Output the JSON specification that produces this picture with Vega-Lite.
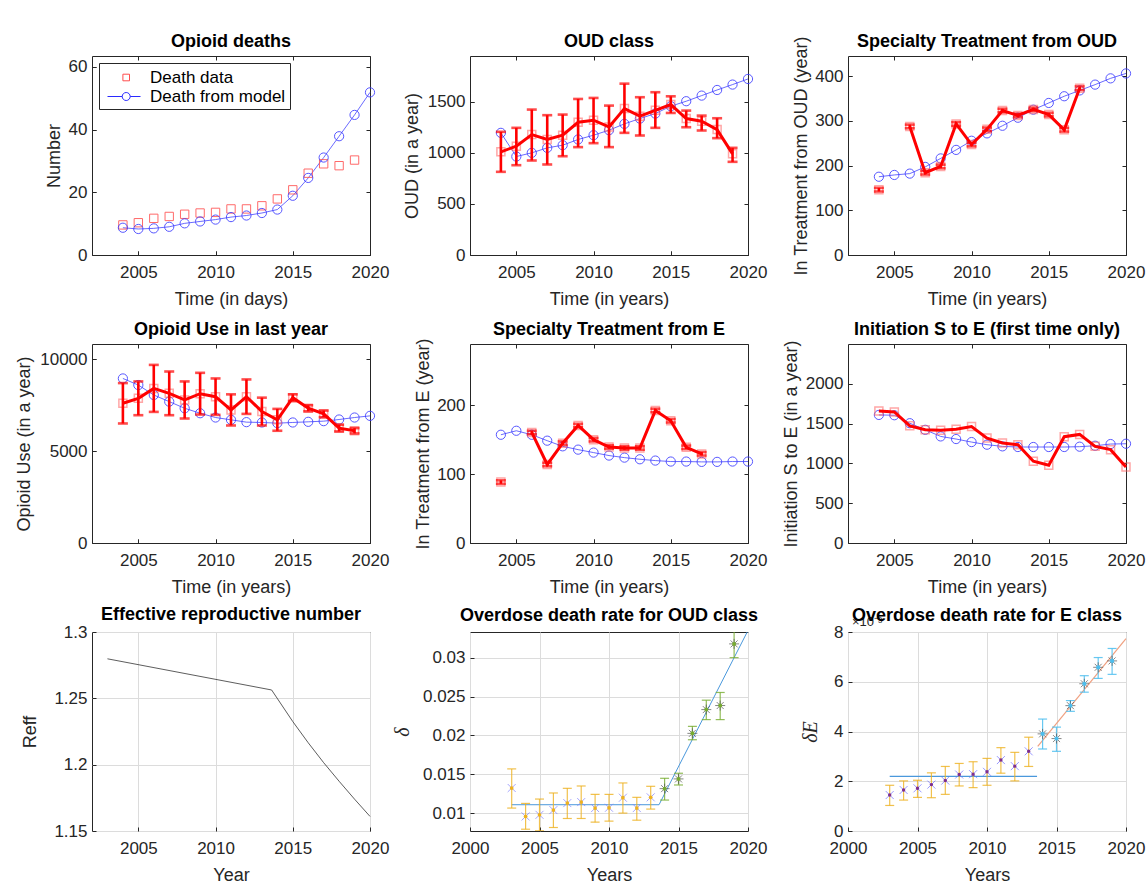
{
  "$schema": "https://vega.github.io/schema/vega-lite/v6.json",
  "background": "white",
  "padding": {"left": 14, "top": 32, "right": 0, "bottom": 0},
  "bounds": "flush",
  "columns": 3,
  "spacing": {"row": 89, "column": 100},
  "datasets": {
    "deaths": [
      {"year": 2004, "kind": "Death data", "v": 9.6},
      {"year": 2005, "kind": "Death data", "v": 10.3},
      {"year": 2006, "kind": "Death data", "v": 11.7},
      {"year": 2007, "kind": "Death data", "v": 12.3},
      {"year": 2008, "kind": "Death data", "v": 13.0},
      {"year": 2009, "kind": "Death data", "v": 13.4},
      {"year": 2010, "kind": "Death data", "v": 13.6},
      {"year": 2011, "kind": "Death data", "v": 14.7},
      {"year": 2012, "kind": "Death data", "v": 14.7},
      {"year": 2013, "kind": "Death data", "v": 15.7},
      {"year": 2014, "kind": "Death data", "v": 17.9},
      {"year": 2015, "kind": "Death data", "v": 20.8},
      {"year": 2016, "kind": "Death data", "v": 26.1},
      {"year": 2017, "kind": "Death data", "v": 29.1},
      {"year": 2018, "kind": "Death data", "v": 28.5},
      {"year": 2019, "kind": "Death data", "v": 30.3},
      {"year": 2004, "kind": "Death from model", "v": 8.7},
      {"year": 2005, "kind": "Death from model", "v": 8.3},
      {"year": 2006, "kind": "Death from model", "v": 8.5},
      {"year": 2007, "kind": "Death from model", "v": 9.0},
      {"year": 2008, "kind": "Death from model", "v": 10.1},
      {"year": 2009, "kind": "Death from model", "v": 10.7},
      {"year": 2010, "kind": "Death from model", "v": 11.3},
      {"year": 2011, "kind": "Death from model", "v": 12.1},
      {"year": 2012, "kind": "Death from model", "v": 12.6},
      {"year": 2013, "kind": "Death from model", "v": 13.4},
      {"year": 2014, "kind": "Death from model", "v": 14.5},
      {"year": 2015, "kind": "Death from model", "v": 18.9},
      {"year": 2016, "kind": "Death from model", "v": 24.6},
      {"year": 2017, "kind": "Death from model", "v": 31.1},
      {"year": 2018, "kind": "Death from model", "v": 37.9},
      {"year": 2019, "kind": "Death from model", "v": 44.7},
      {"year": 2020, "kind": "Death from model", "v": 51.9}
    ],
    "oud_model": [
      {"year": 2004, "v": 1197}, {"year": 2005, "v": 965}, {"year": 2006, "v": 1001},
      {"year": 2007, "v": 1050}, {"year": 2008, "v": 1076}, {"year": 2009, "v": 1132},
      {"year": 2010, "v": 1174}, {"year": 2011, "v": 1223}, {"year": 2012, "v": 1285},
      {"year": 2013, "v": 1337}, {"year": 2014, "v": 1386}, {"year": 2015, "v": 1458},
      {"year": 2016, "v": 1507}, {"year": 2017, "v": 1562}, {"year": 2018, "v": 1617},
      {"year": 2019, "v": 1670}, {"year": 2020, "v": 1725}
    ],
    "oud_data": [
      {"year": 2004, "v": 1011, "lo": 815, "hi": 1207},
      {"year": 2005, "v": 1066, "lo": 880, "hi": 1246},
      {"year": 2006, "v": 1180, "lo": 926, "hi": 1425},
      {"year": 2007, "v": 1132, "lo": 887, "hi": 1370},
      {"year": 2008, "v": 1174, "lo": 968, "hi": 1376},
      {"year": 2009, "v": 1301, "lo": 1057, "hi": 1529},
      {"year": 2010, "v": 1321, "lo": 1096, "hi": 1539},
      {"year": 2011, "v": 1255, "lo": 1057, "hi": 1464},
      {"year": 2012, "v": 1435, "lo": 1197, "hi": 1679},
      {"year": 2013, "v": 1360, "lo": 1171, "hi": 1546},
      {"year": 2014, "v": 1418, "lo": 1246, "hi": 1595},
      {"year": 2015, "v": 1474, "lo": 1392, "hi": 1555},
      {"year": 2016, "v": 1337, "lo": 1252, "hi": 1415},
      {"year": 2017, "v": 1311, "lo": 1220, "hi": 1366},
      {"year": 2018, "v": 1229, "lo": 1145, "hi": 1340},
      {"year": 2019, "v": 991, "lo": 913, "hi": 1050}
    ],
    "treat_oud_model": [
      {"year": 2004, "v": 175}, {"year": 2005, "v": 179}, {"year": 2006, "v": 182},
      {"year": 2007, "v": 197}, {"year": 2008, "v": 216}, {"year": 2009, "v": 235},
      {"year": 2010, "v": 255.5}, {"year": 2011, "v": 272}, {"year": 2012, "v": 289},
      {"year": 2013, "v": 307}, {"year": 2014, "v": 325}, {"year": 2015, "v": 340},
      {"year": 2016, "v": 355}, {"year": 2017, "v": 368}, {"year": 2018, "v": 381},
      {"year": 2019, "v": 395}, {"year": 2020, "v": 406}
    ],
    "treat_oud_data": [
      {"year": 2004, "seg": "a", "v": 146, "lo": 142, "hi": 150},
      {"year": 2006, "seg": "b", "v": 287.5, "lo": 283.5, "hi": 291.5},
      {"year": 2007, "seg": "b", "v": 184, "lo": 180, "hi": 188},
      {"year": 2008, "seg": "b", "v": 198, "lo": 194, "hi": 202},
      {"year": 2009, "seg": "b", "v": 293, "lo": 289, "hi": 297},
      {"year": 2010, "seg": "b", "v": 247, "lo": 243, "hi": 251},
      {"year": 2011, "seg": "b", "v": 281, "lo": 277, "hi": 285},
      {"year": 2012, "seg": "b", "v": 323, "lo": 319, "hi": 327},
      {"year": 2013, "seg": "b", "v": 312, "lo": 308, "hi": 316},
      {"year": 2014, "seg": "b", "v": 325.5, "lo": 321.5, "hi": 329.5},
      {"year": 2015, "seg": "b", "v": 314, "lo": 310, "hi": 318},
      {"year": 2016, "seg": "b", "v": 280, "lo": 276, "hi": 284},
      {"year": 2017, "seg": "b", "v": 373, "lo": 369, "hi": 377}
    ],
    "use_model": [
      {"year": 2004, "v": 8955}, {"year": 2005, "v": 8595}, {"year": 2006, "v": 8054},
      {"year": 2007, "v": 7694}, {"year": 2008, "v": 7333}, {"year": 2009, "v": 7063},
      {"year": 2010, "v": 6829}, {"year": 2011, "v": 6703}, {"year": 2012, "v": 6577},
      {"year": 2013, "v": 6559}, {"year": 2014, "v": 6523}, {"year": 2015, "v": 6559},
      {"year": 2016, "v": 6595}, {"year": 2017, "v": 6631}, {"year": 2018, "v": 6721},
      {"year": 2019, "v": 6829}, {"year": 2020, "v": 6919}
    ],
    "use_data": [
      {"year": 2004, "v": 7604, "lo": 6505, "hi": 8703},
      {"year": 2005, "v": 7874, "lo": 6955, "hi": 8793},
      {"year": 2006, "v": 8414, "lo": 7135, "hi": 9693},
      {"year": 2007, "v": 8144, "lo": 6955, "hi": 9333},
      {"year": 2008, "v": 7784, "lo": 6775, "hi": 8793},
      {"year": 2009, "v": 8126, "lo": 6991, "hi": 9261},
      {"year": 2010, "v": 7964, "lo": 6973, "hi": 8955},
      {"year": 2011, "v": 7243, "lo": 6396, "hi": 8090},
      {"year": 2012, "v": 7964, "lo": 7027, "hi": 8901},
      {"year": 2013, "v": 7153, "lo": 6396, "hi": 7910},
      {"year": 2014, "v": 6703, "lo": 6108, "hi": 7298},
      {"year": 2015, "v": 7910, "lo": 7730, "hi": 8090},
      {"year": 2016, "v": 7333, "lo": 7171, "hi": 7495},
      {"year": 2017, "v": 7027, "lo": 6847, "hi": 7207},
      {"year": 2018, "v": 6252, "lo": 6072, "hi": 6432},
      {"year": 2019, "v": 6108, "lo": 5964, "hi": 6252}
    ],
    "treat_e_model": [
      {"year": 2004, "v": 157.2}, {"year": 2005, "v": 163}, {"year": 2006, "v": 157.2},
      {"year": 2007, "v": 148.6}, {"year": 2008, "v": 140.4}, {"year": 2009, "v": 135.6},
      {"year": 2010, "v": 131.3}, {"year": 2011, "v": 127}, {"year": 2012, "v": 124},
      {"year": 2013, "v": 121.6}, {"year": 2014, "v": 119.7}, {"year": 2015, "v": 118.3},
      {"year": 2016, "v": 118.3}, {"year": 2017, "v": 117.8}, {"year": 2018, "v": 117.8},
      {"year": 2019, "v": 118.3}, {"year": 2020, "v": 118.3}
    ],
    "treat_e_data": [
      {"year": 2004, "seg": "a", "v": 88.5, "lo": 86, "hi": 91},
      {"year": 2006, "seg": "b", "v": 160.6, "lo": 158, "hi": 163},
      {"year": 2007, "seg": "b", "v": 114, "lo": 111.5, "hi": 116.5},
      {"year": 2008, "seg": "b", "v": 145, "lo": 142.5, "hi": 147.5},
      {"year": 2009, "seg": "b", "v": 170.7, "lo": 168, "hi": 173},
      {"year": 2010, "seg": "b", "v": 150, "lo": 147.5, "hi": 152.5},
      {"year": 2011, "seg": "b", "v": 139.4, "lo": 137, "hi": 142},
      {"year": 2012, "seg": "b", "v": 138, "lo": 135.5, "hi": 140.5},
      {"year": 2013, "seg": "b", "v": 138, "lo": 135.5, "hi": 140.5},
      {"year": 2014, "seg": "b", "v": 192.3, "lo": 190, "hi": 195},
      {"year": 2015, "seg": "b", "v": 177.4, "lo": 175, "hi": 180},
      {"year": 2016, "seg": "b", "v": 139, "lo": 136.5, "hi": 141.5},
      {"year": 2017, "seg": "b", "v": 129.3, "lo": 127, "hi": 132}
    ],
    "init_model": [
      {"year": 2004, "v": 1609}, {"year": 2005, "v": 1605}, {"year": 2006, "v": 1505},
      {"year": 2007, "v": 1422}, {"year": 2008, "v": 1339}, {"year": 2009, "v": 1306},
      {"year": 2010, "v": 1268}, {"year": 2011, "v": 1235}, {"year": 2012, "v": 1214},
      {"year": 2013, "v": 1206}, {"year": 2014, "v": 1206}, {"year": 2015, "v": 1206},
      {"year": 2016, "v": 1206}, {"year": 2017, "v": 1210}, {"year": 2018, "v": 1222},
      {"year": 2019, "v": 1243}, {"year": 2020, "v": 1247}
    ],
    "init_data": [
      {"year": 2004, "v": 1659}, {"year": 2005, "v": 1647}, {"year": 2006, "v": 1472},
      {"year": 2007, "v": 1422}, {"year": 2008, "v": 1418}, {"year": 2009, "v": 1430},
      {"year": 2010, "v": 1464}, {"year": 2011, "v": 1318}, {"year": 2012, "v": 1256},
      {"year": 2013, "v": 1235}, {"year": 2014, "v": 1027}, {"year": 2015, "v": 977},
      {"year": 2016, "v": 1335}, {"year": 2017, "v": 1364}, {"year": 2018, "v": 1214},
      {"year": 2019, "v": 1173}, {"year": 2020, "v": 956}
    ],
    "reff": [
      {"year": 2003, "v": 1.2798}, {"year": 2013.63, "v": 1.2563}, {"year": 2015, "v": 1.2325},
      {"year": 2016, "v": 1.2165}, {"year": 2017, "v": 1.2015}, {"year": 2018, "v": 1.1875},
      {"year": 2019, "v": 1.174}, {"year": 2020, "v": 1.161}
    ],
    "delta_oud": [
      {"year": 2003, "phase": "early", "v": 0.01323, "lo": 0.01065, "hi": 0.01569},
      {"year": 2004, "phase": "early", "v": 0.00957, "lo": 0.00793, "hi": 0.01125},
      {"year": 2005, "phase": "early", "v": 0.00978, "lo": 0.00772, "hi": 0.01181},
      {"year": 2006, "phase": "early", "v": 0.01039, "lo": 0.00815, "hi": 0.01259},
      {"year": 2007, "phase": "early", "v": 0.01129, "lo": 0.00931, "hi": 0.01319},
      {"year": 2008, "phase": "early", "v": 0.01142, "lo": 0.00931, "hi": 0.01349},
      {"year": 2009, "phase": "early", "v": 0.01065, "lo": 0.00884, "hi": 0.01241},
      {"year": 2010, "phase": "early", "v": 0.01069, "lo": 0.00897, "hi": 0.01241},
      {"year": 2011, "phase": "early", "v": 0.01198, "lo": 0.01, "hi": 0.01388},
      {"year": 2012, "phase": "early", "v": 0.01065, "lo": 0.00909, "hi": 0.01203},
      {"year": 2013, "phase": "early", "v": 0.01203, "lo": 0.01052, "hi": 0.01345},
      {"year": 2014, "phase": "late", "v": 0.01315, "lo": 0.01168, "hi": 0.01448},
      {"year": 2015, "phase": "late", "v": 0.0144, "lo": 0.01362, "hi": 0.01513},
      {"year": 2016, "phase": "late", "v": 0.02026, "lo": 0.01944, "hi": 0.02116},
      {"year": 2017, "phase": "late", "v": 0.02332, "lo": 0.02203, "hi": 0.02453},
      {"year": 2018, "phase": "late", "v": 0.02384, "lo": 0.02203, "hi": 0.02552},
      {"year": 2019, "phase": "late", "v": 0.03177, "lo": 0.03, "hi": 0.03336}
    ],
    "delta_oud_fit": [
      {"year": 2003, "v": 0.01108}, {"year": 2013.6, "v": 0.01108}, {"year": 2020, "v": 0.0335}
    ],
    "delta_e": [
      {"year": 2003, "phase": "early", "v": 1.446, "lo": 1.027, "hi": 1.838},
      {"year": 2004, "phase": "early", "v": 1.649, "lo": 1.243, "hi": 2.014},
      {"year": 2005, "phase": "early", "v": 1.716, "lo": 1.351, "hi": 2.04},
      {"year": 2006, "phase": "early", "v": 1.865, "lo": 1.338, "hi": 2.338},
      {"year": 2007, "phase": "early", "v": 2.027, "lo": 1.473, "hi": 2.595},
      {"year": 2008, "phase": "early", "v": 2.27, "lo": 1.811, "hi": 2.716},
      {"year": 2009, "phase": "early", "v": 2.284, "lo": 1.743, "hi": 2.784},
      {"year": 2010, "phase": "early", "v": 2.378, "lo": 1.838, "hi": 2.919},
      {"year": 2011, "phase": "early", "v": 2.851, "lo": 2.324, "hi": 3.351},
      {"year": 2012, "phase": "early", "v": 2.608, "lo": 2.014, "hi": 3.162},
      {"year": 2013, "phase": "early", "v": 3.203, "lo": 2.595, "hi": 3.77},
      {"year": 2014, "phase": "late", "v": 3.905, "lo": 3.297, "hi": 4.5},
      {"year": 2015, "phase": "late", "v": 3.716, "lo": 3.203, "hi": 4.176},
      {"year": 2016, "phase": "late", "v": 5.04, "lo": 4.811, "hi": 5.243},
      {"year": 2017, "phase": "late", "v": 5.919, "lo": 5.581, "hi": 6.243},
      {"year": 2018, "phase": "late", "v": 6.581, "lo": 6.135, "hi": 6.973},
      {"year": 2019, "phase": "late", "v": 6.838, "lo": 6.297, "hi": 7.338}
    ],
    "delta_e_fit": [
      {"year": 2003, "seg": "flat", "v": 2.2}, {"year": 2013.6, "seg": "flat", "v": 2.2},
      {"year": 2013.65, "seg": "rise", "v": 3.4}, {"year": 2020, "seg": "rise", "v": 7.73}
    ]
  },
  "concat": [
    {
      "width": 278, "height": 199,
      "title": {"text": "Opioid deaths", "offset": 5},
      "data": {"name": "deaths"},
      "encoding": {
        "x": {"field": "year", "type": "quantitative", "scale": {"domain": [2002, 2020], "nice": false, "zero": false}, "axis": {"values": [2005, 2010, 2015, 2020], "format": "d", "title": "Time (in days)"}},
        "y": {"field": "v", "type": "quantitative", "scale": {"domain": [0, 63.5], "nice": false, "zero": false}, "axis": {"values": [0, 20, 40, 60], "format": "d", "title": "Number", "titleX": -38}}
      },
      "layer": [
        {
          "transform": [{"filter": "datum.kind === 'Death from model'"}],
          "mark": {"type": "line", "stroke": "#3b3bff", "strokeWidth": 0.9, "opacity": 0.85}
        },
        {
          "transform": [{"filter": "datum.kind === 'Death data'"}],
          "mark": {"type": "point", "shape": "square", "filled": false, "color": "#ff5050", "strokeWidth": 1, "opacity": 0.85, "size": 70}
        },
        {
          "transform": [{"filter": "datum.kind === 'Death from model'"}],
          "mark": {"type": "point", "shape": "circle", "filled": false, "color": "#3b3bff", "strokeWidth": 1, "opacity": 0.85, "size": 85}
        },
        {
          "mark": {"type": "point", "filled": false, "opacity": 0, "size": 400},
          "encoding": {
            "shape": {
              "field": "kind", "type": "nominal",
              "scale": {"domain": ["Death data", "Death from model"], "range": ["M0.94,-0.33H1.6V0.33H0.94Z", "M-0.6,0H0.87M1.67,0H2.7M1.67,0A0.4,0.4,0,1,1,0.87,0A0.4,0.4,0,1,1,1.67,0"]},
              "legend": null
            },
            "color": {
              "field": "kind", "type": "nominal",
              "scale": {"domain": ["Death data", "Death from model"], "range": ["#ff4d4d", "#2a2aff"]},
              "legend": {
                "title": null, "orient": "top-left", "offset": 7, "padding": 4,
                "strokeColor": "#262626", "fillColor": "white",
                "labelFontSize": 17, "labelColor": "#000000", "labelOffset": 26,
                "symbolSize": 400, "symbolStrokeWidth": 1, "symbolOpacity": 1, "rowPadding": 0
              }
            }
          }
        }
      ]
    },
    {
      "width": 278, "height": 199,
      "title": {"text": "OUD class", "offset": 5},
      "encoding": {
        "x": {"field": "year", "type": "quantitative", "scale": {"domain": [2002, 2020], "nice": false, "zero": false}, "axis": {"values": [2005, 2010, 2015, 2020], "format": "d", "title": "Time (in years)"}},
        "y": {"field": "v", "type": "quantitative", "scale": {"domain": [0, 1950], "nice": false, "zero": false}, "axis": {"values": [0, 500, 1000, 1500], "format": "d", "title": "OUD (in a year)", "titleX": -58}}
      },
      "layer": [
        {"data": {"name": "oud_model"}, "mark": {"type": "line", "stroke": "#3b3bff", "strokeWidth": 0.9, "opacity": 0.85}},
        {"data": {"name": "oud_model"}, "mark": {"type": "point", "shape": "circle", "filled": false, "color": "#3b3bff", "strokeWidth": 1, "opacity": 0.85, "size": 85}},
        {"data": {"name": "oud_data"}, "mark": {"type": "point", "shape": "square", "filled": false, "color": "#ff6060", "strokeWidth": 1.5, "opacity": 0.55, "size": 64}},
        {"data": {"name": "oud_data"}, "mark": {"type": "line", "stroke": "#ff0000", "strokeWidth": 3}},
        {
          "data": {"name": "oud_data"},
          "mark": {"type": "errorbar", "ticks": true, "thickness": 2.6, "size": 10, "color": "#ff0000"},
          "encoding": {
            "y": {"field": "lo", "type": "quantitative", "scale": {"domain": [0, 1950], "nice": false, "zero": false}, "axis": {"values": [0, 500, 1000, 1500], "format": "d", "title": "OUD (in a year)", "titleX": -58}},
            "y2": {"field": "hi"}
          }
        }
      ]
    },
    {
      "width": 278, "height": 199,
      "title": {"text": "Specialty Treatment from OUD", "offset": -15},
      "encoding": {
        "x": {"field": "year", "type": "quantitative", "scale": {"domain": [2002, 2020], "nice": false, "zero": false}, "axis": {"values": [2005, 2010, 2015, 2020], "format": "d", "title": "Time (in years)"}},
        "y": {"field": "v", "type": "quantitative", "scale": {"domain": [0, 445], "nice": false, "zero": false}, "axis": {"values": [0, 100, 200, 300, 400], "format": "d", "title": "In Treatment from OUD (year)", "titleX": -47}}
      },
      "layer": [
        {"data": {"name": "treat_oud_model"}, "mark": {"type": "line", "stroke": "#3b3bff", "strokeWidth": 0.9, "opacity": 0.85}},
        {"data": {"name": "treat_oud_model"}, "mark": {"type": "point", "shape": "circle", "filled": false, "color": "#3b3bff", "strokeWidth": 1, "opacity": 0.85, "size": 85}},
        {"data": {"name": "treat_oud_data"}, "mark": {"type": "point", "shape": "square", "filled": false, "color": "#ff6060", "strokeWidth": 1.5, "opacity": 0.55, "size": 64}},
        {"data": {"name": "treat_oud_data"}, "mark": {"type": "line", "stroke": "#ff0000", "strokeWidth": 3}, "encoding": {"detail": {"field": "seg"}}},
        {
          "data": {"name": "treat_oud_data"},
          "mark": {"type": "errorbar", "ticks": true, "thickness": 2.6, "size": 10, "color": "#ff0000"},
          "encoding": {
            "y": {"field": "lo", "type": "quantitative", "scale": {"domain": [0, 445], "nice": false, "zero": false}, "axis": {"values": [0, 100, 200, 300, 400], "format": "d", "title": "In Treatment from OUD (year)", "titleX": -47}},
            "y2": {"field": "hi"}
          }
        }
      ]
    },
    {
      "width": 278, "height": 199,
      "title": {"text": "Opioid Use in last year", "offset": 5},
      "encoding": {
        "x": {"field": "year", "type": "quantitative", "scale": {"domain": [2002, 2020], "nice": false, "zero": false}, "axis": {"values": [2005, 2010, 2015, 2020], "format": "d", "title": "Time (in years)"}},
        "y": {"field": "v", "type": "quantitative", "scale": {"domain": [0, 10830], "nice": false, "zero": false}, "axis": {"values": [0, 5000, 10000], "format": "d", "title": "Opioid Use (in a year)", "titleX": -68}}
      },
      "layer": [
        {"data": {"name": "use_model"}, "mark": {"type": "line", "stroke": "#3b3bff", "strokeWidth": 0.9, "opacity": 0.85}},
        {"data": {"name": "use_model"}, "mark": {"type": "point", "shape": "circle", "filled": false, "color": "#3b3bff", "strokeWidth": 1, "opacity": 0.85, "size": 85}},
        {"data": {"name": "use_data"}, "mark": {"type": "point", "shape": "square", "filled": false, "color": "#ff6060", "strokeWidth": 1.5, "opacity": 0.55, "size": 64}},
        {"data": {"name": "use_data"}, "mark": {"type": "line", "stroke": "#ff0000", "strokeWidth": 3}},
        {
          "data": {"name": "use_data"},
          "mark": {"type": "errorbar", "ticks": true, "thickness": 2.6, "size": 10, "color": "#ff0000"},
          "encoding": {
            "y": {"field": "lo", "type": "quantitative", "scale": {"domain": [0, 10830], "nice": false, "zero": false}, "axis": {"values": [0, 5000, 10000], "format": "d", "title": "Opioid Use (in a year)", "titleX": -68}},
            "y2": {"field": "hi"}
          }
        }
      ]
    },
    {
      "width": 278, "height": 199,
      "title": {"text": "Specialty Treatment from E", "offset": -1},
      "encoding": {
        "x": {"field": "year", "type": "quantitative", "scale": {"domain": [2002, 2020], "nice": false, "zero": false}, "axis": {"values": [2005, 2010, 2015, 2020], "format": "d", "title": "Time (in years)"}},
        "y": {"field": "v", "type": "quantitative", "scale": {"domain": [0, 289], "nice": false, "zero": false}, "axis": {"values": [0, 100, 200], "format": "d", "title": "In Treatment from E (year)", "titleX": -47}}
      },
      "layer": [
        {"data": {"name": "treat_e_model"}, "mark": {"type": "line", "stroke": "#3b3bff", "strokeWidth": 0.9, "opacity": 0.85}},
        {"data": {"name": "treat_e_model"}, "mark": {"type": "point", "shape": "circle", "filled": false, "color": "#3b3bff", "strokeWidth": 1, "opacity": 0.85, "size": 85}},
        {"data": {"name": "treat_e_data"}, "mark": {"type": "point", "shape": "square", "filled": false, "color": "#ff6060", "strokeWidth": 1.5, "opacity": 0.55, "size": 64}},
        {"data": {"name": "treat_e_data"}, "mark": {"type": "line", "stroke": "#ff0000", "strokeWidth": 3}, "encoding": {"detail": {"field": "seg"}}},
        {
          "data": {"name": "treat_e_data"},
          "mark": {"type": "errorbar", "ticks": true, "thickness": 2.6, "size": 10, "color": "#ff0000"},
          "encoding": {
            "y": {"field": "lo", "type": "quantitative", "scale": {"domain": [0, 289], "nice": false, "zero": false}, "axis": {"values": [0, 100, 200], "format": "d", "title": "In Treatment from E (year)", "titleX": -47}},
            "y2": {"field": "hi"}
          }
        }
      ]
    },
    {
      "width": 278, "height": 199,
      "title": {"text": "Initiation S to E (first time only)", "offset": 1},
      "encoding": {
        "x": {"field": "year", "type": "quantitative", "scale": {"domain": [2002, 2020], "nice": false, "zero": false}, "axis": {"values": [2005, 2010, 2015, 2020], "format": "d", "title": "Time (in years)"}},
        "y": {"field": "v", "type": "quantitative", "scale": {"domain": [0, 2500], "nice": false, "zero": false}, "axis": {"values": [0, 500, 1000, 1500, 2000], "format": "d", "title": "Initiation S to E (in a year)", "titleX": -57}}
      },
      "layer": [
        {"data": {"name": "init_model"}, "mark": {"type": "line", "stroke": "#3b3bff", "strokeWidth": 0.9, "opacity": 0.85}},
        {"data": {"name": "init_model"}, "mark": {"type": "point", "shape": "circle", "filled": false, "color": "#3b3bff", "strokeWidth": 1, "opacity": 0.85, "size": 85}},
        {"data": {"name": "init_data"}, "mark": {"type": "point", "shape": "square", "filled": false, "color": "#ff6060", "strokeWidth": 1.5, "opacity": 0.55, "size": 64}},
        {"data": {"name": "init_data"}, "mark": {"type": "line", "stroke": "#ff0000", "strokeWidth": 3}}
      ]
    },
    {
      "width": 278, "height": 199,
      "title": {"text": "Effective reproductive number", "offset": -1},
      "data": {"name": "reff"},
      "mark": {"type": "line", "stroke": "#333333", "strokeWidth": 0.8},
      "encoding": {
        "x": {"field": "year", "type": "quantitative", "scale": {"domain": [2002, 2020], "nice": false, "zero": false}, "axis": {"values": [2005, 2010, 2015, 2020], "format": "d", "title": "Year", "grid": true, "gridDash": [], "gridColor": "#dcdcdc"}},
        "y": {"field": "v", "type": "quantitative", "scale": {"domain": [1.15, 1.3], "nice": false, "zero": false}, "axis": {"values": [1.15, 1.2, 1.25, 1.3], "format": "~g", "title": "Reff", "titleX": -62, "grid": true, "gridDash": [], "gridColor": "#dcdcdc"}}
      }
    },
    {
      "width": 278, "height": 199,
      "title": {"text": "Overdose death rate for OUD class", "offset": 7},
      "encoding": {
        "x": {"field": "year", "type": "quantitative", "scale": {"domain": [2000, 2020], "nice": false, "zero": false}, "axis": {"values": [2000, 2005, 2010, 2015, 2020], "format": "d", "title": "Years", "grid": true, "gridDash": [], "gridColor": "#dcdcdc"}},
        "y": {"field": "v", "type": "quantitative", "scale": {"domain": [0.0077, 0.0333], "nice": false, "zero": false}, "axis": {"values": [0.01, 0.015, 0.02, 0.025, 0.03], "format": "~g", "title": "δ", "titleX": -68, "titleFont": "Liberation Serif", "titleFontStyle": "italic", "titleFontSize": 20, "grid": true, "gridDash": [], "gridColor": "#dcdcdc"}}
      },
      "layer": [
        {"data": {"name": "delta_oud_fit"}, "mark": {"type": "line", "stroke": "#4a98dc", "strokeWidth": 1, "clip": true}},
        {
          "data": {"name": "delta_oud"},
          "transform": [{"filter": "datum.phase === 'early'"}],
          "mark": {"type": "errorbar", "ticks": true, "thickness": 1.2, "size": 9, "color": "#EDB120", "opacity": 0.8, "clip": true},
          "encoding": {
            "y": {"field": "lo", "type": "quantitative", "scale": {"domain": [0.0077, 0.0333], "nice": false, "zero": false}, "axis": {"values": [0.01, 0.015, 0.02, 0.025, 0.03], "format": "~g", "title": "δ", "titleX": -68, "titleFont": "Liberation Serif", "titleFontStyle": "italic", "titleFontSize": 20, "grid": true, "gridDash": [], "gridColor": "#dcdcdc"}},
            "y2": {"field": "hi"}
          }
        },
        {
          "data": {"name": "delta_oud"},
          "transform": [{"filter": "datum.phase === 'late'"}],
          "mark": {"type": "errorbar", "ticks": true, "thickness": 1.2, "size": 9, "color": "#77AC30", "opacity": 0.8, "clip": true},
          "encoding": {
            "y": {"field": "lo", "type": "quantitative", "scale": {"domain": [0.0077, 0.0333], "nice": false, "zero": false}, "axis": {"values": [0.01, 0.015, 0.02, 0.025, 0.03], "format": "~g", "title": "δ", "titleX": -68, "titleFont": "Liberation Serif", "titleFontStyle": "italic", "titleFontSize": 20, "grid": true, "gridDash": [], "gridColor": "#dcdcdc"}},
            "y2": {"field": "hi"}
          }
        },
        {
          "data": {"name": "delta_oud"},
          "transform": [{"filter": "datum.phase === 'early'"}],
          "mark": {"type": "point", "shape": "M-1,-1L1,1M-1,1L1,-1", "filled": false, "color": "#8080ff", "strokeWidth": 1, "size": 64}
        },
        {
          "data": {"name": "delta_oud"},
          "transform": [{"filter": "datum.phase === 'early'"}],
          "mark": {"type": "circle", "color": "#EDB120", "opacity": 1, "size": 14}
        },
        {
          "data": {"name": "delta_oud"},
          "transform": [{"filter": "datum.phase === 'late'"}],
          "mark": {"type": "point", "shape": "M-1,0H1M0,-1V1M-0.7,-0.7L0.7,0.7M-0.7,0.7L0.7,-0.7", "filled": false, "color": "#555555", "strokeWidth": 1, "size": 100}
        },
        {
          "data": {"name": "delta_oud"},
          "transform": [{"filter": "datum.phase === 'late'"}],
          "mark": {"type": "circle", "color": "#77AC30", "opacity": 1, "size": 16}
        }
      ]
    },
    {
      "width": 278, "height": 199,
      "title": {"text": "Overdose death rate for E class", "offset": -9},
      "encoding": {
        "x": {"field": "year", "type": "quantitative", "scale": {"domain": [2000, 2020], "nice": false, "zero": false}, "axis": {"values": [2000, 2005, 2010, 2015, 2020], "format": "d", "title": "Years", "grid": true, "gridDash": [], "gridColor": "#dcdcdc"}},
        "y": {"field": "v", "type": "quantitative", "scale": {"domain": [0, 8], "nice": false, "zero": false}, "axis": {"values": [0, 2, 4, 6, 8], "format": "d", "title": "δE", "titleX": -38, "titleFont": "Liberation Serif", "titleFontStyle": "italic", "titleFontSize": 20, "grid": true, "gridDash": [], "gridColor": "#dcdcdc"}}
      },
      "layer": [
        {
          "data": {"name": "delta_e_fit"},
          "transform": [{"filter": "datum.seg === 'flat'"}],
          "mark": {"type": "line", "stroke": "#4a98dc", "strokeWidth": 1.2}
        },
        {
          "data": {"name": "delta_e_fit"},
          "transform": [{"filter": "datum.seg === 'rise'"}],
          "mark": {"type": "line", "stroke": "#f0a080", "strokeWidth": 1.2}
        },
        {
          "data": {"name": "delta_e"},
          "transform": [{"filter": "datum.phase === 'early'"}],
          "mark": {"type": "errorbar", "ticks": true, "thickness": 1.2, "size": 9, "color": "#EDB120", "opacity": 0.8},
          "encoding": {
            "y": {"field": "lo", "type": "quantitative", "scale": {"domain": [0, 8], "nice": false, "zero": false}, "axis": {"values": [0, 2, 4, 6, 8], "format": "d", "title": "δE", "titleX": -38, "titleFont": "Liberation Serif", "titleFontStyle": "italic", "titleFontSize": 20, "grid": true, "gridDash": [], "gridColor": "#dcdcdc"}},
            "y2": {"field": "hi"}
          }
        },
        {
          "data": {"name": "delta_e"},
          "transform": [{"filter": "datum.phase === 'late'"}],
          "mark": {"type": "errorbar", "ticks": true, "thickness": 1.2, "size": 9, "color": "#4DBEEE", "opacity": 0.85},
          "encoding": {
            "y": {"field": "lo", "type": "quantitative", "scale": {"domain": [0, 8], "nice": false, "zero": false}, "axis": {"values": [0, 2, 4, 6, 8], "format": "d", "title": "δE", "titleX": -38, "titleFont": "Liberation Serif", "titleFontStyle": "italic", "titleFontSize": 20, "grid": true, "gridDash": [], "gridColor": "#dcdcdc"}},
            "y2": {"field": "hi"}
          }
        },
        {
          "data": {"name": "delta_e"},
          "transform": [{"filter": "datum.phase === 'early'"}],
          "mark": {"type": "point", "shape": "M-1,-1L1,1M-1,1L1,-1", "filled": false, "color": "#7070ff", "strokeWidth": 1, "size": 64}
        },
        {
          "data": {"name": "delta_e"},
          "transform": [{"filter": "datum.phase === 'early'"}],
          "mark": {"type": "circle", "color": "#7E2F8E", "opacity": 1, "size": 12}
        },
        {
          "data": {"name": "delta_e"},
          "transform": [{"filter": "datum.phase === 'late'"}],
          "mark": {"type": "point", "shape": "M-1,0H1M0,-1V1M-0.7,-0.7L0.7,0.7M-0.7,0.7L0.7,-0.7", "filled": false, "color": "#555555", "strokeWidth": 1, "size": 100}
        },
        {
          "data": {"name": "delta_e"},
          "transform": [{"filter": "datum.phase === 'late'"}],
          "mark": {"type": "circle", "color": "#4DBEEE", "opacity": 1, "size": 18}
        },
        {
          "data": {"values": [{"year": 2000, "v": 8, "label": "×10⁻³"}]},
          "mark": {"type": "text", "align": "left", "baseline": "bottom", "dx": 4, "dy": -3, "fontSize": 13, "color": "#262626", "font": "Liberation Sans"},
          "encoding": {"text": {"field": "label"}}
        }
      ]
    }
  ],
  "config": {
    "font": "Liberation Sans",
    "view": {"stroke": "#262626", "strokeWidth": 1},
    "axis": {
      "domain": false,
      "gridWidth": 1,
      "labelFont": "Liberation Sans",
      "labelFontSize": 17,
      "labelColor": "#262626",
      "labelFlush": false,
      "titleFont": "Liberation Sans",
      "titleFontSize": 18,
      "titleFontWeight": "normal",
      "titleColor": "#262626",
      "tickColor": "#262626",
      "tickSize": -4,
      "tickWidth": 1
    },
    "axisX": {"grid": true, "gridColor": "#262626", "gridDash": [4, 191]},
    "axisY": {"grid": true, "gridColor": "#262626", "gridDash": [4, 270]},
    "axisBottom": {"titleY": 44, "titleBaseline": "middle", "labelPadding": 13},
    "axisLeft": {"titleBaseline": "middle", "labelPadding": 9},
    "title": {"font": "Liberation Sans", "fontSize": 18, "fontWeight": "bold", "color": "#000000", "anchor": "middle", "frame": "group"}
  }
}
